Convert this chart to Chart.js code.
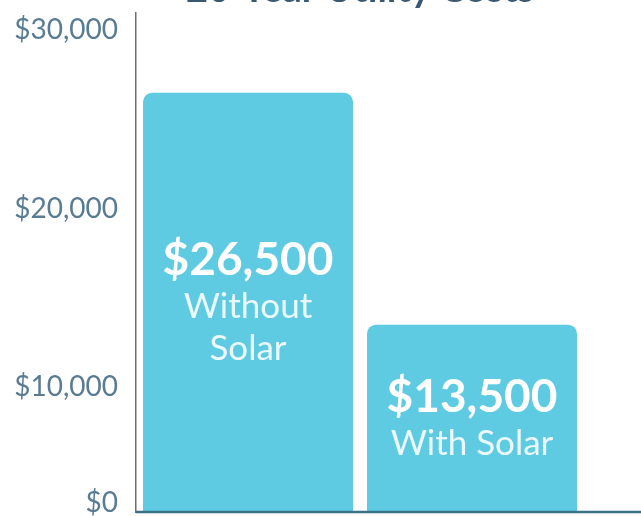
<!DOCTYPE html>
<html>
<head>
<meta charset="utf-8">
<script src="https://cdn.jsdelivr.net/npm/chart.js@4.4.1/dist/chart.umd.min.js"></script>
<style>
  html, body { margin: 0; padding: 0; background: #ffffff; overflow: hidden; }
  #wrap { position: relative; top: -40px; width: 641px; height: 556px; }
</style>
</head>
<body>
<div id="wrap"><canvas id="c"></canvas></div>
<script>
const titleText = '20-Year Utility Costs';
const categories = ['Without Solar', 'With Solar'];
const costValues = [26500, 13500];
const valueLabels = ['$26,500', '$13,500'];
const nameLines = [['Without', 'Solar'], ['With Solar']];
const tickValues = [0, 10000, 20000, 30000];
const tickLabels = ['$0', '$10,000', '$20,000', '$30,000'];

const barTextPlugin = {
  id: 'barText',
  afterDatasetsDraw(chart) {
    const ctx = chart.ctx;
    const meta = chart.getDatasetMeta(0);
    const floor = chart.chartArea.bottom;
    ctx.save();
    ctx.textAlign = 'center';
    ctx.textBaseline = 'middle';
    meta.data.forEach((bar, i) => {
      const mid = (bar.y + Math.min(bar.base, floor)) / 2;
      const subs = nameLines[i];
      const h = 51 + 42 * subs.length;
      let y = mid - h / 2;
      ctx.fillStyle = '#ffffff';
      ctx.font = 'bold 46px Lato';
      ctx.fillText(valueLabels[i], bar.x, y + 25);
      y += 51;
      ctx.fillStyle = 'rgba(255,255,255,0.88)';
      ctx.font = '35px Lato';
      subs.forEach(s => {
        ctx.fillText(s, bar.x, y + 21);
        y += 42;
      });
    });
    ctx.restore();
  }
};

const baselinePlugin = {
  id: 'baseline',
  afterDatasetsDraw(chart) {
    const ctx = chart.ctx;
    const a = chart.chartArea;
    ctx.save();
    ctx.strokeStyle = '#3a7186';
    ctx.lineWidth = 2.5;
    ctx.beginPath();
    ctx.moveTo(a.left, a.bottom);
    ctx.lineTo(chart.width, a.bottom);
    ctx.stroke();
    ctx.restore();
  }
};

new Chart(document.getElementById('c'), {
  type: 'bar',
  data: {
    labels: categories,
    datasets: [{
      data: costValues,
      backgroundColor: '#5ecbe3',
      borderRadius: { topLeft: 9, topRight: 9, bottomLeft: 0, bottomRight: 0 },
      borderSkipped: 'bottom',
      barPercentage: 0.9375,
      categoryPercentage: 1.0
    }]
  },
  options: {
    responsive: true,
    maintainAspectRatio: false,
    animation: false,
    layout: { autoPadding: false, padding: { left: 0, right: 57, top: 0, bottom: 0 } },
    plugins: {
      legend: { display: false },
      tooltip: { enabled: false },
      title: {
        display: true,
        text: titleText,
        fullSize: false,
        color: '#3a5870',
        font: { family: 'Lato', size: 38, weight: 'bold' },
        padding: { top: 7, bottom: 0 }
      }
    },
    scales: {
      x: {
        grid: { display: false },
        border: { display: false },
        ticks: { display: false },
        afterFit(s) { s.height = 4; s.paddingLeft = 0; s.paddingRight = 0; }
      },
      y: {
        min: 3000,
        max: 31000,
        grid: { display: false, drawTicks: false },
        border: { display: true, color: '#6a6f74', width: 1.5 },
        afterBuildTicks(s) {
          const floorLabel = s.min + (s.max - s.min) * 0.018;
          s.ticks = tickValues.map(v => ({ value: Math.max(v, floorLabel) }));
        },
        ticks: {
          padding: 18,
          color: '#5a7c93',
          font: { family: 'Lato', size: 28 },
          callback: (val, i) => tickLabels[i]
        },
        afterFit(s) { s.width = 136; s.paddingTop = 0; s.paddingBottom = 0; }
      }
    }
  },
  plugins: [barTextPlugin, baselinePlugin]
});
</script>
</body>
</html>
